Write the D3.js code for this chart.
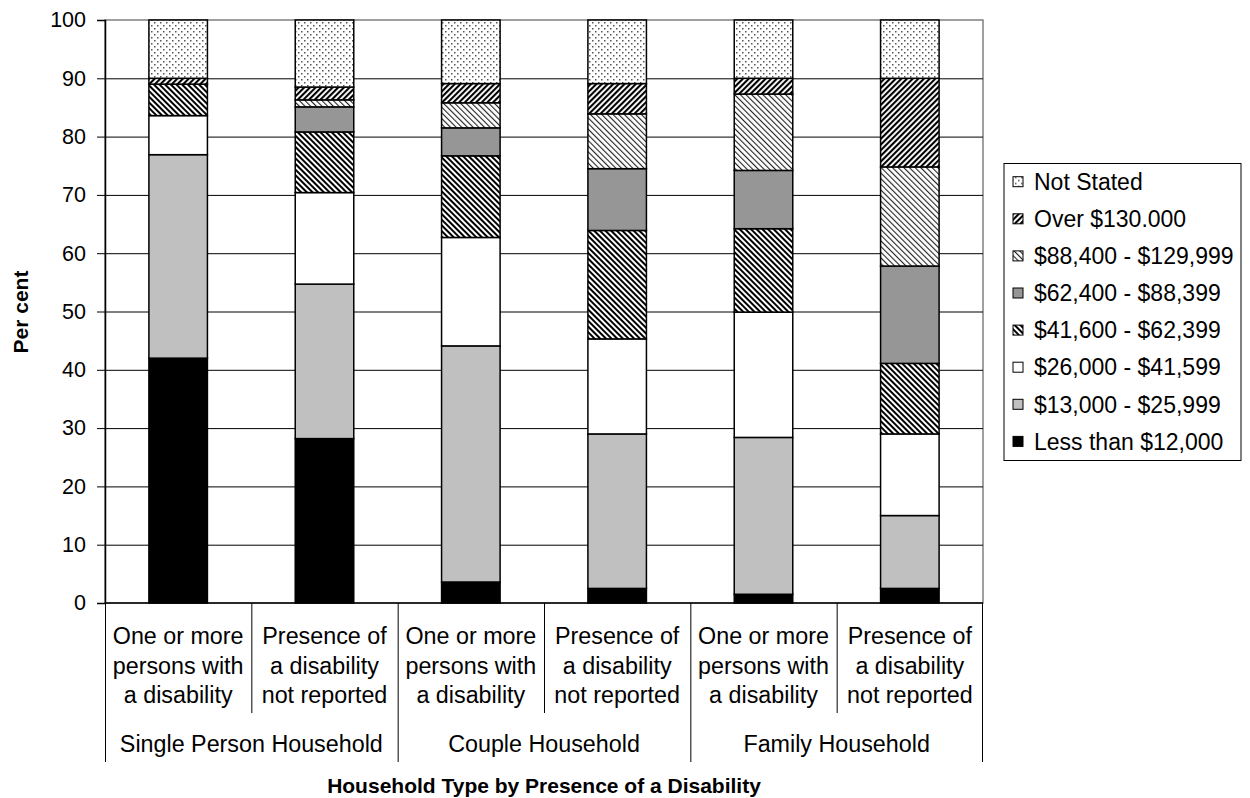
<!DOCTYPE html>
<html>
<head>
<meta charset="utf-8">
<script src="https://cdn.jsdelivr.net/npm/d3@7"></script>
<style>
  html, body { margin: 0; padding: 0; background: #fff; }
  svg { display: block; font-family: "Liberation Sans", Arial, sans-serif; }
</style>
</head>
<body>
<svg id="chart" width="1250" height="798"></svg>
<script>
// ---------- data ----------
const categories = ["S1", "S2", "C1", "C2", "F1", "F2"];
const subLabels = [
  ["One or more", "persons with", "a disability"],
  ["Presence of", "a disability", "not reported"],
  ["One or more", "persons with", "a disability"],
  ["Presence of", "a disability", "not reported"],
  ["One or more", "persons with", "a disability"],
  ["Presence of", "a disability", "not reported"]
];
const groups = ["Single Person Household", "Couple Household", "Family Household"];
const seriesNames = [
  "Less than $12,000",
  "$13,000 - $25,999",
  "$26,000 - $41,599",
  "$41,600 - $62,399",
  "$62,400 - $88,399",
  "$88,400 - $129,999",
  "Over $130.000",
  "Not Stated"
];
const lessThan12k   = [42.0, 28.2,  3.6,  2.5,  1.5,  2.5];
const from13k       = [34.9, 26.5, 40.5, 26.5, 26.9, 12.5];
const from26k       = [ 6.7, 15.7, 18.6, 16.3, 21.5, 14.0];
const from41k       = [ 5.4, 10.4, 14.0, 18.6, 14.3, 12.1];
const from62k       = [ 0.0,  4.3,  4.8, 10.6, 10.0, 16.7];
const from88k       = [ 0.0,  1.2,  4.3,  9.4, 13.1, 17.0];
const over130k      = [ 1.0,  2.2,  3.3,  5.2,  2.7, 15.2];
const notStated     = [10.0, 11.5, 10.9, 10.9, 10.0, 10.0];
const yTicks = [0, 10, 20, 30, 40, 50, 60, 70, 80, 90, 100];
const yTitle = "Per cent";
const xTitle = "Household Type by Presence of a Disability";

const seriesValues = [lessThan12k, from13k, from26k, from41k, from62k, from88k, over130k, notStated];
const fills = ["#000000", "#c0c0c0", "#ffffff", "url(#hatchDarkBack)", "#969696",
               "url(#hatchLightBack)", "url(#hatchDarkFwd)", "url(#dots)"];

const rows = categories.map((c, i) => {
  const r = { cat: c };
  seriesNames.forEach((s, k) => r[s] = seriesValues[k][i]);
  return r;
});

// ---------- layout ----------
const svg = d3.select("#chart");
const L = 105, R = 983, T = 20, B = 603;

const x = d3.scaleBand().domain(categories).range([L, R]).paddingInner(0.6).paddingOuter(0.3);
const xCat = d3.scaleBand().domain(categories).range([L, R]).padding(0);
const xGroup = d3.scaleBand().domain(groups).range([L, R]).padding(0);
const y = d3.scaleLinear().domain([0, 100]).range([B, T]);

// ---------- patterns ----------
const defs = svg.append("defs");
function hatch(id, angle, size, lineW, color) {
  const p = defs.append("pattern").attr("id", id).attr("patternUnits", "userSpaceOnUse")
    .attr("width", size).attr("height", size).attr("patternTransform", `rotate(${angle})`);
  p.append("rect").attr("width", size).attr("height", size).attr("fill", "#fff");
  p.append("rect").attr("x", 0).attr("y", 0).attr("width", lineW).attr("height", size).attr("fill", color);
}
hatch("hatchDarkFwd", 45, 4, 2.1, "#000");
hatch("hatchDarkBack", -45, 4, 2.0, "#000");
hatch("hatchLightBack", -45, 4, 1.1, "#222");
const dp = defs.append("pattern").attr("id", "dots").attr("patternUnits", "userSpaceOnUse")
  .attr("width", 6).attr("height", 6);
dp.append("rect").attr("width", 6).attr("height", 6).attr("fill", "#fff");
dp.append("rect").attr("x", 1).attr("y", 1).attr("width", 1.5).attr("height", 1.5).attr("fill", "#555");
dp.append("rect").attr("x", 4).attr("y", 4).attr("width", 1.5).attr("height", 1.5).attr("fill", "#555");

// ---------- plot background, gridlines ----------
svg.append("rect").attr("x", L).attr("y", T).attr("width", R - L).attr("height", B - T)
  .attr("fill", "#fff").attr("stroke", "#808080").attr("stroke-width", 1.5);

svg.append("g").selectAll("line").data(yTicks.filter(d => d > 0 && d < 100)).join("line")
  .attr("x1", L).attr("x2", R).attr("y1", d => y(d) + 0.5).attr("y2", d => y(d) + 0.5)
  .attr("stroke", "#000").attr("stroke-width", 1);

// ---------- bars ----------
const stack = d3.stack().keys(seriesNames);
const stacked = stack(rows);

const layers = svg.append("g").selectAll("g").data(stacked).join("g")
  .attr("fill", (d, i) => fills[i]);
layers.selectAll("rect").data(d => d).join("rect")
  .attr("x", d => x(d.data.cat))
  .attr("width", x.bandwidth())
  .attr("y", d => y(d[1]))
  .attr("height", d => Math.max(0, y(d[0]) - y(d[1])))
  .attr("stroke", "#000").attr("stroke-width", 1.5);

// ---------- y axis ----------
const yAxis = svg.append("g").attr("transform", `translate(${L},0)`)
  .call(d3.axisLeft(y).tickValues(yTicks).tickSize(8).tickPadding(11));
yAxis.select(".domain").attr("stroke", "#000").attr("stroke-width", 1.5);
yAxis.selectAll(".tick line").attr("stroke", "#000");
yAxis.selectAll(".tick text").attr("font-size", 21.5).attr("fill", "#000")
  .attr("font-family", "Liberation Sans, Arial, sans-serif");

// ---------- x axis ----------
svg.append("line").attr("x1", L).attr("x2", R).attr("y1", B).attr("y2", B)
  .attr("stroke", "#000").attr("stroke-width", 1.5);

// separators between sub-categories
svg.append("g").selectAll("line").data(categories).join("line")
  .attr("x1", d => xCat(d) + 0.5).attr("x2", d => xCat(d) + 0.5)
  .attr("y1", B).attr("y2", (d, i) => i % 2 === 0 ? 762 : 713)
  .attr("stroke", "#000").attr("stroke-width", 1);
svg.append("line").attr("x1", R - 0.5).attr("x2", R - 0.5).attr("y1", B).attr("y2", 762)
  .attr("stroke", "#000").attr("stroke-width", 1);

const lineY = [644, 674, 703];
const catText = svg.append("g").attr("font-size", 23.3).attr("text-anchor", "middle").attr("fill", "#000");
categories.forEach((c, i) => {
  subLabels[i].forEach((t, j) => {
    catText.append("text").attr("x", xCat(c) + xCat.bandwidth() / 2).attr("y", lineY[j]).text(t);
  });
});
svg.append("g").selectAll("text").data(groups).join("text")
  .attr("x", d => xGroup(d) + xGroup.bandwidth() / 2).attr("y", 752)
  .attr("text-anchor", "middle").attr("font-size", 23.3).text(d => d);

// ---------- titles ----------
svg.append("text").attr("x", (L + R) / 2).attr("y", 793).attr("text-anchor", "middle")
  .attr("font-size", 21).attr("font-weight", "bold").text(xTitle);
svg.append("text").attr("transform", "translate(28,312) rotate(-90)").attr("text-anchor", "middle")
  .attr("font-size", 21).attr("font-weight", "bold").text(yTitle);

// ---------- legend ----------
const lg = svg.append("g");
lg.append("rect").attr("x", 1004).attr("y", 163.5).attr("width", 237).attr("height", 297)
  .attr("fill", "#fff").attr("stroke", "#000").attr("stroke-width", 1);
const legendOrder = seriesNames.map((s, i) => i).reverse();
const items = lg.selectAll("g.item").data(legendOrder).join("g").attr("class", "item")
  .attr("transform", (d, i) => `translate(0,${181.7 + i * 37.1})`);
items.append("rect").attr("x", 1013).attr("y", -5).attr("width", 10).attr("height", 10)
  .attr("fill", d => fills[d]).attr("stroke", "#000").attr("stroke-width", 1);
items.append("text").attr("x", 1034).attr("y", 0).attr("dy", "0.36em")
  .attr("font-size", 23).text(d => seriesNames[d]);
</script>
</body>
</html>
